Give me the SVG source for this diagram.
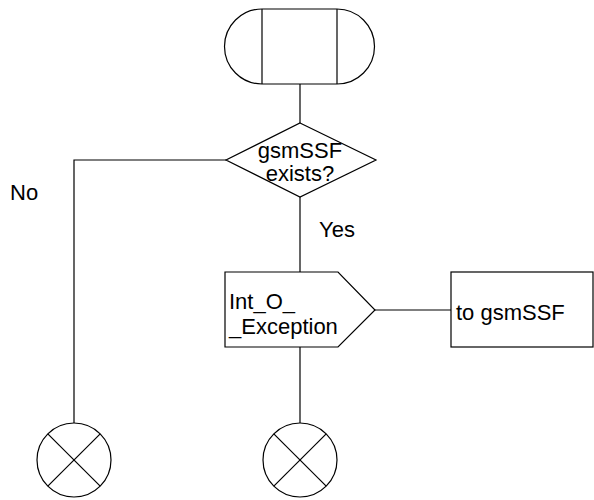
<svg xmlns="http://www.w3.org/2000/svg" width="594" height="500" viewBox="0 0 594 500">
<style>
.s{fill:#fff;stroke:#000;stroke-width:1.2}
.l{fill:none;stroke:#000;stroke-width:1.2}
text{font-family:"Liberation Sans",Arial,sans-serif;font-size:22px;fill:#000}
</style>
<rect width="594" height="500" fill="#fff"/>
<g id="connectors">
<line class="l" x1="300" y1="84" x2="300" y2="123"/>
<polyline class="l" points="226,160 74,160 74,423"/>
<line class="l" x1="300" y1="197" x2="300" y2="272"/>
<line class="l" x1="300" y1="347" x2="300" y2="423"/>
<line class="l" x1="375" y1="310" x2="451" y2="310"/>
</g>
<g id="start">
<path class="s" d="M262,9 A37.5,37.5 0 0 0 262,84 L337,84 A37.5,37.5 0 0 0 337,9 Z"/>
<line class="l" x1="262" y1="9" x2="262" y2="84"/>
<line class="l" x1="337" y1="9" x2="337" y2="84"/>
</g>
<g id="decision">
<polygon class="s" points="300,123 376,160 300,197 226,160"/>
<text x="300" y="158" text-anchor="middle">gsmSSF</text>
<text x="300" y="181" text-anchor="middle">exists?</text>
</g>
<text id="no" x="10" y="200">No</text>
<text id="yes" x="319" y="237">Yes</text>
<g id="output">
<polygon class="s" points="225,272 338,272 375,310 338,347 225,347"/>
<text x="229" y="309">Int_O_</text>
<text x="229" y="334">_Exception</text>
</g>
<g id="comment">
<rect class="s" x="451" y="272" width="142" height="75"/>
<text x="456" y="320">to gsmSSF</text>
</g>
<g id="stop1">
<circle class="s" cx="74" cy="460" r="37"/>
<line class="l" x1="47.8" y1="433.8" x2="100.2" y2="486.2"/>
<line class="l" x1="100.2" y1="433.8" x2="47.8" y2="486.2"/>
</g>
<g id="stop2">
<circle class="s" cx="300" cy="460" r="37"/>
<line class="l" x1="273.8" y1="433.8" x2="326.2" y2="486.2"/>
<line class="l" x1="326.2" y1="433.8" x2="273.8" y2="486.2"/>
</g>
</svg>
